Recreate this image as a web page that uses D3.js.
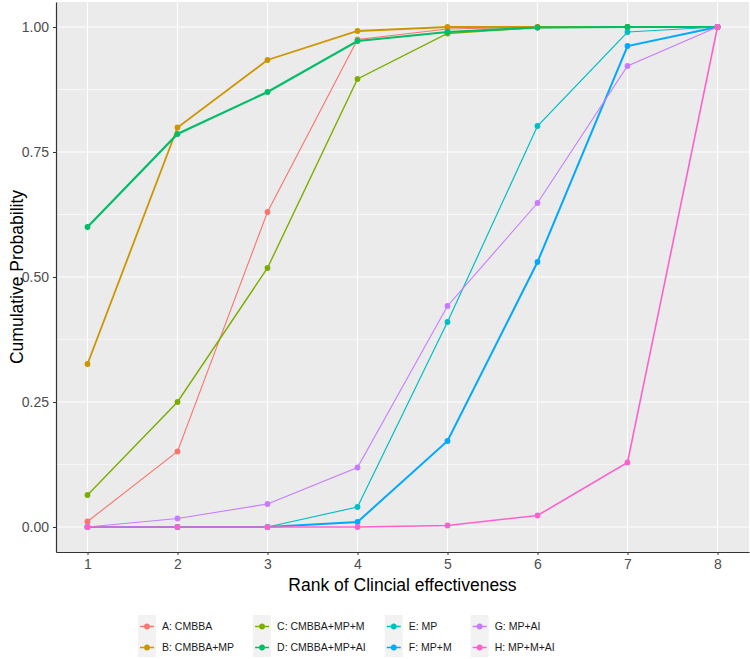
<!DOCTYPE html>
<meta charset="utf-8">
<head>
    <style type="text/css">
        body { margin: 0; background: #fff; }
        text { font-family: "Liberation Sans", Arial, sans-serif; }
        .grid-major { stroke: #fff; stroke-width: 1.1; }
        .grid-minor { stroke: #fff; stroke-width: 0.55; }
        .axis path, .axis line { stroke: #333; }
        .axis text { fill: #4d4d4d; font-size: 14px; }
        .line { fill: none; }
    </style>
</head>
<body>
    <script src="https://d3js.org/d3.v7.min.js"></script>
    <script>
        // ranks on the x axis
        var ranks = [1, 2, 3, 4, 5, 6, 7, 8];
        var yTicks = [0, 0.25, 0.5, 0.75, 1];

        // treatment names (legend order)
        var treatments = ["A: CMBBA", "B: CMBBA+MP", "C: CMBBA+MP+M", "D: CMBBA+MP+AI",
                          "E: MP", "F: MP+M", "G: MP+AI", "H: MP+M+AI"];

        // cumulative probability for ranks 1..8
        var valA = [0.011, 0.151, 0.63, 0.975, 0.996, 1.0, 1.0, 1.0];
        var valB = [0.326, 0.799, 0.934, 0.992, 1.0, 1.0, 1.0, 1.0];
        var valC = [0.064, 0.25, 0.518, 0.896, 0.987, 0.999, 1.0, 1.0];
        var valD = [0.6, 0.786, 0.87, 0.972, 0.99, 0.999, 1.0, 1.0];
        var valE = [0.0, 0.0, 0.0, 0.04, 0.41, 0.802, 0.99, 1.0];
        var valF = [0.0, 0.0, 0.0, 0.01, 0.172, 0.53, 0.962, 1.0];
        var valG = [0.0, 0.017, 0.046, 0.119, 0.442, 0.648, 0.922, 1.0];
        var valH = [0.0, 0.0, 0.0, 0.0, 0.003, 0.023, 0.129, 1.0];

        var allValues = [valA, valB, valC, valD, valE, valF, valG, valH];

        // ggplot hue palette + line widths as they appear
        var colors = ["#F8766D", "#CD9600", "#7CAE00", "#00BE67", "#00BFC4", "#00A9FF", "#C77CFF", "#FF61CC"];
        var widths = [1.1, 1.8, 1.4, 2.2, 1.2, 2.0, 1.1, 1.6];

        var series = treatments.map(function (name, i) {
            return {
                name: name,
                color: colors[i],
                width: widths[i],
                points: ranks.map(function (r, j) { return { x: r, y: allValues[i][j] }; })
            };
        });

        var W = 750, H = 659;
        var margin = { top: 2, right: 1, bottom: 107, left: 56 };
        var width = W - margin.left - margin.right,
            height = H - margin.top - margin.bottom;

        // ggplot style 5% expansion
        var xScale = d3.scaleLinear()
            .domain([1 - 0.35, 8 + 0.35])
            .range([0, width]);
        var yScale = d3.scaleLinear()
            .domain([-0.05, 1.05])
            .range([height, 0]);

        var svg = d3.select("body").append("svg")
            .attr("width", W)
            .attr("height", H);

        var g = svg.append("g")
            .attr("transform", "translate(" + margin.left + "," + margin.top + ")");

        // panel
        g.append("rect")
            .attr("width", width)
            .attr("height", height)
            .attr("fill", "#EBEBEB");

        // minor horizontal grid
        var yMinor = d3.range(0.125, 1, 0.25);
        g.selectAll(".grid-minor")
            .data(yMinor)
            .enter().append("line")
            .attr("class", "grid-minor")
            .attr("x1", 0).attr("x2", width)
            .attr("y1", function (d) { return yScale(d); })
            .attr("y2", function (d) { return yScale(d); });

        g.selectAll(".grid-y")
            .data(yTicks)
            .enter().append("line")
            .attr("class", "grid-major grid-y")
            .attr("x1", 0).attr("x2", width)
            .attr("y1", function (d) { return yScale(d); })
            .attr("y2", function (d) { return yScale(d); });

        g.selectAll(".grid-x")
            .data(ranks)
            .enter().append("line")
            .attr("class", "grid-major grid-x")
            .attr("y1", 0).attr("y2", height)
            .attr("x1", function (d) { return xScale(d); })
            .attr("x2", function (d) { return xScale(d); });

        var line = d3.line()
            .x(function (d) { return xScale(d.x); })
            .y(function (d) { return yScale(d.y); });

        var sg = g.selectAll(".series")
            .data(series)
            .enter().append("g")
            .attr("class", "series");

        sg.append("path")
            .attr("class", "line")
            .attr("stroke", function (d) { return d.color; })
            .attr("stroke-width", function (d) { return d.width; })
            .attr("d", function (d) { return line(d.points); });

        sg.selectAll(".dot")
            .data(function (d) { return d.points.map(function (p) { return { x: p.x, y: p.y, color: d.color }; }); })
            .enter().append("circle")
            .attr("class", "dot")
            .attr("cx", function (d) { return xScale(d.x); })
            .attr("cy", function (d) { return yScale(d.y); })
            .attr("r", 2.9)
            .attr("fill", function (d) { return d.color; });

        // axes
        var xAxis = g.append("g")
            .attr("class", "axis")
            .attr("transform", "translate(0," + height + ")")
            .call(d3.axisBottom(xScale).tickValues(ranks).tickSize(3).tickSizeOuter(0).tickPadding(4));
        xAxis.select(".domain").attr("stroke-width", 1.2);

        var yAxis = g.append("g")
            .attr("class", "axis")
            .call(d3.axisLeft(yScale).tickValues(yTicks).tickFormat(d3.format(".2f")).tickSize(3).tickSizeOuter(0).tickPadding(4));
        yAxis.select(".domain").attr("stroke-width", 1.2);
        g.selectAll(".axis text").attr("font-family", null);

        // axis titles
        svg.append("text")
            .attr("x", margin.left + width / 2)
            .attr("y", 591)
            .attr("text-anchor", "middle")
            .style("font-size", "17.5px")
            .text("Rank of Clincial effectiveness");

        svg.append("text")
            .attr("transform", "translate(17," + (margin.top + height / 2) + ") rotate(-90)")
            .attr("text-anchor", "middle")
            .attr("dy", "0.35em")
            .style("font-size", "17.5px")
            .text("Cumulative Probability");

        // legend: 4 columns x 2 rows
        var legend = svg.append("g").attr("transform", "translate(138,615)");
        var keyW = 18, rowH = 21, colX = 0;
        for (var c = 0; c < 4; c++) {
            var col = legend.append("g").attr("transform", "translate(" + colX + ",0)");
            col.append("rect")
                .attr("width", keyW).attr("height", rowH * 2)
                .attr("fill", "#F2F2F2");
            var maxW = 0;
            for (var r = 0; r < 2; r++) {
                var s = series[c * 2 + r];
                var cy = rowH * r + rowH / 2 + 1;
                col.append("line")
                    .attr("x1", 2).attr("x2", keyW - 2)
                    .attr("y1", cy).attr("y2", cy)
                    .attr("stroke", s.color).attr("stroke-width", 1.5);
                col.append("circle")
                    .attr("cx", keyW / 2).attr("cy", cy).attr("r", 2.9)
                    .attr("fill", s.color);
                var t = col.append("text")
                    .attr("x", keyW + 6).attr("y", cy)
                    .attr("dy", "0.35em")
                    .style("font-size", "10.5px")
                    .attr("fill", "#1a1a1a")
                    .text(s.name);
                maxW = Math.max(maxW, t.node().getComputedTextLength());
            }
            colX += keyW + 6 + maxW + 19;
        }
    </script>
</body>
